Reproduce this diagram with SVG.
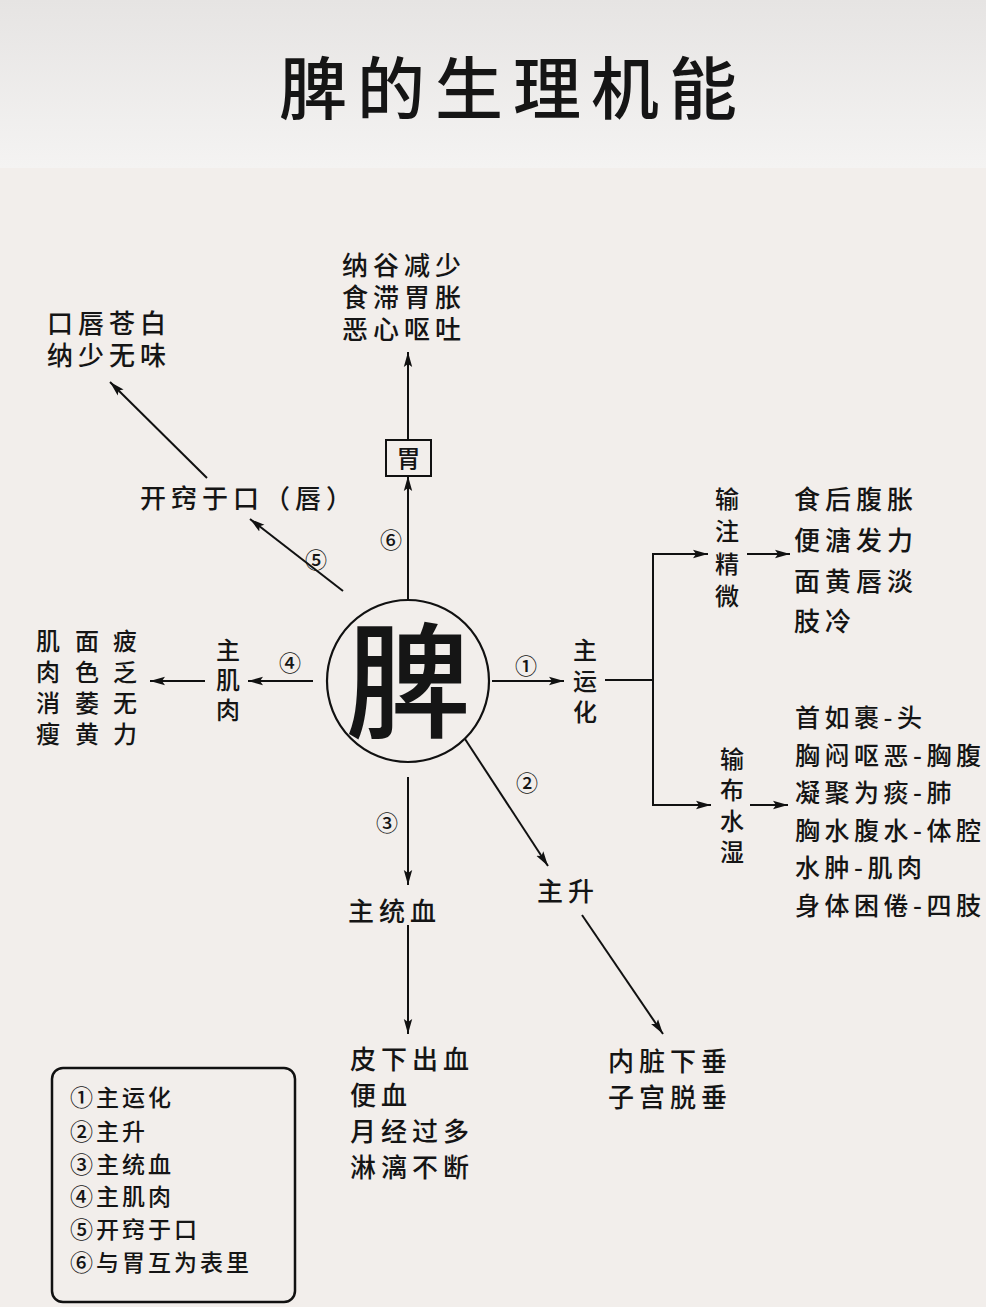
<svg xmlns="http://www.w3.org/2000/svg" width="986" height="1307" viewBox="0 0 986 1307">
<defs>
<linearGradient id="hdr" x1="0" y1="0" x2="0" y2="1">
<stop offset="0" stop-color="#e6e4e3"/>
<stop offset="1" stop-color="#f4f3f2"/>
</linearGradient>
<marker id="ah" markerUnits="userSpaceOnUse" markerWidth="16" markerHeight="10" refX="15" refY="5" orient="auto">
<path d="M0,0.8 L15,5 L0,9.2 L3,5 Z" fill="#111"/>
</marker>
<style>
.t{font-family:"Noto Sans CJK SC","Noto Sans CJK JP",sans-serif;fill:#151515;font-weight:500}
.b{font-size:26px;letter-spacing:5px}
.r{font-size:25px;letter-spacing:4.5px}
.v{font-size:24px}
.n{font-size:22px}
.lg{font-size:23px;letter-spacing:3px}
.ln{stroke:#111;stroke-width:2;fill:none}
.ar{marker-end:url(#ah)}
</style>
</defs>
<rect x="0" y="0" width="986" height="1307" fill="#f2eeeb"/>
<rect x="0" y="0" width="986" height="168" fill="url(#hdr)"/>
<text class="t" x="513" y="114" text-anchor="middle" font-size="68" letter-spacing="10" font-weight="700">脾的生理机能</text>

<g id="connectors">
<line class="ln ar" x1="408" y1="600" x2="408" y2="476"/>
<line class="ln ar" x1="408" y1="440" x2="408" y2="352"/>
<line class="ln ar" x1="343" y1="591" x2="250" y2="519"/>
<line class="ln ar" x1="207" y1="478" x2="110" y2="382"/>
<line class="ln ar" x1="313" y1="681" x2="248" y2="681"/>
<line class="ln ar" x1="205" y1="681" x2="150" y2="681"/>
<line class="ln ar" x1="492" y1="681" x2="564" y2="681"/>
<polyline class="ln" points="605,680 653,680"/>
<polyline class="ln ar" points="653,680 653,554 708,554"/>
<polyline class="ln ar" points="653,680 653,805 711,805"/>
<line class="ln ar" x1="747" y1="554" x2="790" y2="554"/>
<line class="ln ar" x1="750" y1="805" x2="788" y2="805"/>
<line class="ln ar" x1="465" y1="739" x2="548" y2="866"/>
<line class="ln ar" x1="582" y1="915" x2="663" y2="1034"/>
<line class="ln ar" x1="408" y1="777" x2="408" y2="885"/>
<line class="ln ar" x1="408" y1="925" x2="408" y2="1034"/>
</g>

<g id="spleen">
<circle cx="408" cy="681" r="81" fill="none" stroke="#111" stroke-width="2.2"/>
<text class="t" x="408" y="728" text-anchor="middle" font-size="125" font-weight="600">脾</text>
</g>

<g id="stomach">
<rect x="386" y="440" width="45" height="36" fill="none" stroke="#111" stroke-width="2"/>
<text class="t" x="408.5" y="467" text-anchor="middle" font-size="24">胃</text>
</g>
<g id="stomach-symptoms">
<text class="t b" x="342" y="275">纳谷减少</text>
<text class="t b" x="342" y="307">食滞胃胀</text>
<text class="t b" x="342" y="339">恶心呕吐</text>
</g>

<g id="mouth">
<text class="t b" x="140" y="508">开窍于口（唇）</text>
</g>
<g id="mouth-symptoms">
<text class="t b" x="47" y="333">口唇苍白</text>
<text class="t b" x="47" y="365">纳少无味</text>
</g>

<g id="muscle">
<text class="t v" x="228" y="659" text-anchor="middle">主</text>
<text class="t v" x="228" y="689" text-anchor="middle">肌</text>
<text class="t v" x="228" y="719" text-anchor="middle">肉</text>
</g>
<g id="muscle-symptoms">
<text class="t v" x="48" y="650" text-anchor="middle">肌</text>
<text class="t v" x="48" y="681" text-anchor="middle">肉</text>
<text class="t v" x="48" y="712" text-anchor="middle">消</text>
<text class="t v" x="48" y="743" text-anchor="middle">瘦</text>
<text class="t v" x="87" y="650" text-anchor="middle">面</text>
<text class="t v" x="87" y="681" text-anchor="middle">色</text>
<text class="t v" x="87" y="712" text-anchor="middle">萎</text>
<text class="t v" x="87" y="743" text-anchor="middle">黄</text>
<text class="t v" x="125" y="650" text-anchor="middle">疲</text>
<text class="t v" x="125" y="681" text-anchor="middle">乏</text>
<text class="t v" x="125" y="712" text-anchor="middle">无</text>
<text class="t v" x="125" y="743" text-anchor="middle">力</text>
</g>

<g id="transform">
<text class="t v" x="585" y="659" text-anchor="middle">主</text>
<text class="t v" x="585" y="690" text-anchor="middle">运</text>
<text class="t v" x="585" y="721" text-anchor="middle">化</text>
</g>
<g id="essence">
<text class="t v" x="727" y="508" text-anchor="middle">输</text>
<text class="t v" x="727" y="540" text-anchor="middle">注</text>
<text class="t v" x="727" y="573" text-anchor="middle">精</text>
<text class="t v" x="727" y="605" text-anchor="middle">微</text>
</g>
<g id="essence-symptoms">
<text class="t b" x="794" y="509">食后腹胀</text>
<text class="t b" x="794" y="550">便溏发力</text>
<text class="t b" x="794" y="591">面黄唇淡</text>
<text class="t b" x="794" y="631">肢冷</text>
</g>
<g id="water">
<text class="t v" x="732" y="768" text-anchor="middle">输</text>
<text class="t v" x="732" y="799" text-anchor="middle">布</text>
<text class="t v" x="732" y="830" text-anchor="middle">水</text>
<text class="t v" x="732" y="861" text-anchor="middle">湿</text>
</g>
<g id="water-symptoms">
<text class="t r" x="795" y="727">首如裹-头</text>
<text class="t r" x="795" y="765">胸闷呕恶-胸腹</text>
<text class="t r" x="795" y="802">凝聚为痰-肺</text>
<text class="t r" x="795" y="840">胸水腹水-体腔</text>
<text class="t r" x="795" y="877">水肿-肌肉</text>
<text class="t r" x="795" y="915">身体困倦-四肢</text>
</g>

<g id="ascend">
<text class="t b" x="537" y="901">主升</text>
</g>
<g id="ascend-symptoms">
<text class="t b" x="608" y="1071">内脏下垂</text>
<text class="t b" x="608" y="1107">子宫脱垂</text>
</g>

<g id="blood">
<text class="t b" x="348" y="921">主统血</text>
</g>
<g id="blood-symptoms">
<text class="t b" x="350" y="1069">皮下出血</text>
<text class="t b" x="350" y="1105">便血</text>
<text class="t b" x="350" y="1141">月经过多</text>
<text class="t b" x="350" y="1177">淋漓不断</text>
</g>

<g id="numbers">
<text class="t n" x="526" y="674" text-anchor="middle">①</text>
<text class="t n" x="527" y="791" text-anchor="middle">②</text>
<text class="t n" x="387" y="831" text-anchor="middle">③</text>
<text class="t n" x="290" y="671" text-anchor="middle">④</text>
<text class="t n" x="316" y="568" text-anchor="middle">⑤</text>
<text class="t n" x="391" y="548" text-anchor="middle">⑥</text>
</g>

<g id="legend">
<rect x="52" y="1068" width="243" height="234" rx="11" fill="none" stroke="#111" stroke-width="2.5"/>
<text class="t lg" x="70" y="1106">①主运化</text>
<text class="t lg" x="70" y="1140">②主升</text>
<text class="t lg" x="70" y="1173">③主统血</text>
<text class="t lg" x="70" y="1205">④主肌肉</text>
<text class="t lg" x="70" y="1238">⑤开窍于口</text>
<text class="t lg" x="70" y="1271">⑥与胃互为表里</text>
</g>
</svg>
